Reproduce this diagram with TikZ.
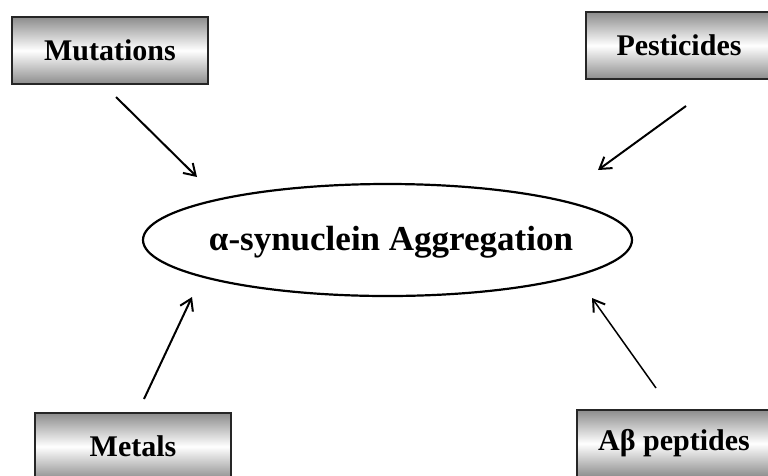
\documentclass[tikz,border=0pt]{standalone}
\usepackage{fontspec}
\setmainfont{Liberation Serif}
\usetikzlibrary{shapes.geometric,arrows.meta}
\begin{document}
\begin{tikzpicture}[x=1pt,y=-1pt,
  factor/.style={draw=black!85,line width=1.3pt,rectangle,inner sep=0pt,
    minimum height=67pt,top color=black!45,bottom color=black!45,middle color=white,
    font=\fontsize{30}{32}\selectfont\bfseries},
  conn/.style={line width=2pt,-{Straight Barb[length=11pt,width=14pt,line width=2pt]}}]
\useasboundingbox (0,0) rectangle (768,475);
\clip (0,0) rectangle (768,475);
\fill[white] (0,0) rectangle (768,475);
% boxes
\node[factor,minimum width=196pt] (mut) at (110,50.5) {Mutations};
\node[factor,minimum width=186pt] (pest) at (679,45.5) {Pesticides};
\node[factor,minimum width=196pt] (met) at (133,446.5) {Metals};
\node[factor,minimum width=194pt] (abeta) at (674,443.5) {Aβ peptides};
% centre
\node[font=\fontsize{35}{37}\selectfont\bfseries,inner sep=0pt] (agg) at (391,242) {α-synuclein Aggregation};
\draw[line width=2.2pt] (387.5,240) ellipse [x radius=244.5, y radius=56];
% arrow ends
\coordinate (m1) at (116,97);  \coordinate (m2) at (197,177);
\coordinate (p1) at (686,106); \coordinate (p2) at (598,170);
\coordinate (t1) at (144,399); \coordinate (t2) at (192,297);
\coordinate (a1) at (656,388); \coordinate (a2) at (592,298);
\draw[conn] (m1) -- (m2);
\draw[conn] (p1) -- (p2);
\draw[conn] (t1) -- (t2);
\draw[conn,line width=1.5pt] (a1) -- (a2);
\end{tikzpicture}
\end{document}
